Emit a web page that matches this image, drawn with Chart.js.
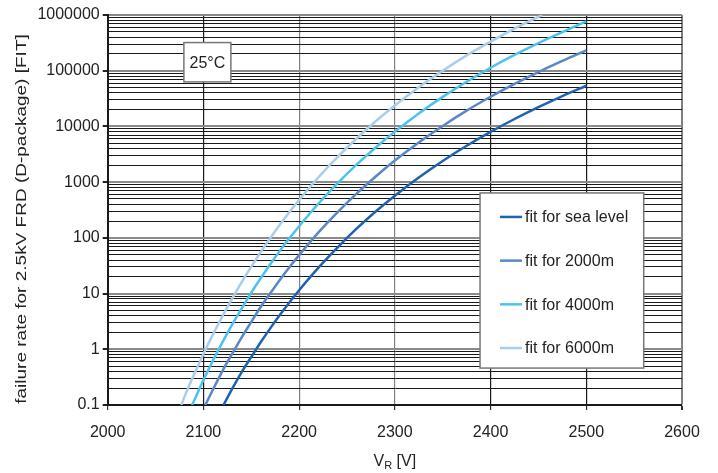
<!DOCTYPE html>
<html>
<head>
<meta charset="utf-8">
<script src="https://cdn.jsdelivr.net/npm/chart.js@4.4.1/dist/chart.umd.min.js"></script>
<style>
  html, body { margin: 0; padding: 0; background: #fff; }
</style>
</head>
<body>
<canvas id="fitChart" width="718" height="473"></canvas>
<script>
// values: V_R [V] and failure rate [FIT]
const seriesLabels = ['fit for sea level', 'fit for 2000m', 'fit for 4000m', 'fit for 6000m'];

const vSea = [2121, 2130, 2140, 2150, 2160, 2170, 2180, 2190, 2200, 2220, 2240, 2260, 2280, 2300, 2325, 2350, 2375, 2400, 2425, 2450, 2475, 2500];
const fitSea = [0.1, 0.195, 0.39, 0.73, 1.35, 2.4, 4.15, 7.0, 11.5, 29, 67, 146, 297, 570, 1210, 2400, 4500, 8000, 13600, 22200, 35100, 53700];

const v2000 = [2102, 2110, 2120, 2130, 2140, 2150, 2160, 2170, 2180, 2190, 2200, 2220, 2240, 2260, 2280, 2300, 2325, 2350, 2375, 2400, 2425, 2450, 2475, 2500];
const fit2000 = [0.1, 0.19, 0.41, 0.83, 1.64, 3.1, 5.8, 10.2, 17.7, 29.9, 49, 124, 287, 621, 1265, 2440, 5160, 10200, 19200, 34100, 58100, 94800, 150000, 232000];

const v4000 = [2088, 2090, 2100, 2110, 2120, 2130, 2140, 2150, 2160, 2170, 2180, 2190, 2200, 2220, 2240, 2260, 2280, 2300, 2325, 2350, 2375, 2400, 2425, 2450, 2475, 2500];
const fit4000 = [0.1, 0.117, 0.28, 0.63, 1.34, 2.76, 5.4, 10.4, 19, 34, 59, 99, 162, 409, 951, 2060, 4190, 8070, 17100, 33900, 63500, 113000, 192000, 314000, 495000, 770000];

const v6000 = [2077, 2080, 2090, 2100, 2110, 2120, 2130, 2140, 2150, 2160, 2170, 2180, 2190, 2200, 2220, 2240, 2260, 2280, 2300, 2325, 2350, 2375, 2400, 2425, 2450, 2454];
const fit6000 = [0.1, 0.137, 0.345, 0.82, 1.85, 3.96, 8.1, 16.1, 30.5, 56, 100, 173, 292, 479, 1210, 2810, 6070, 12400, 23800, 50500, 100000, 188000, 333000, 568000, 927000, 1000000];

const xTicks = [2000, 2100, 2200, 2300, 2400, 2500, 2600];
const yDecades = [0.1, 1, 10, 100, 1000, 10000, 100000, 1000000];

const colors = ['#1f63b0', '#5a87c7', '#4cc2ee', '#a9cdec'];
const textColor = '#222';
const fontFamily = "'Liberation Sans', Arial, sans-serif";
const yTitle = 'failure rate for 2.5kV FRD (D-package) [FIT]';

function toPoints(xs, ys) {
    return xs.map((v, i) => ({ x: v, y: ys[i] }));
}

function isDecade(v) {
    const l = Math.log10(v);
    return Math.abs(l - Math.round(l)) < 1e-9;
}

// 25°C box, legend box, axis titles (subscript on x, squeezed y title like the original)
const extras = {
    id: 'extras',
    afterDatasetsDraw(chart) {
        const { ctx, scales: { x, y } } = chart;
        ctx.save();
        ctx.font = '16px ' + fontFamily;

        // temperature label
        const tx1 = x.getPixelForValue(2079.6), tx2 = x.getPixelForValue(2128.7);
        const ty1 = y.getPixelForValue(320000), ty2 = y.getPixelForValue(63000);
        ctx.fillStyle = '#fff';
        ctx.fillRect(tx1, ty1, tx2 - tx1, ty2 - ty1);
        ctx.strokeStyle = '#777';
        ctx.lineWidth = 1.5;
        ctx.strokeRect(tx1, ty1, tx2 - tx1, ty2 - ty1);
        ctx.fillStyle = textColor;
        ctx.textAlign = 'center';
        ctx.textBaseline = 'middle';
        ctx.fillText('25°C', (tx1 + tx2) / 2, (ty1 + ty2) / 2 + 1);

        // legend
        const lx1 = x.getPixelForValue(2389), lx2 = x.getPixelForValue(2560);
        const ly1 = y.getPixelForValue(640), ly2 = y.getPixelForValue(0.46);
        ctx.fillStyle = '#fff';
        ctx.fillRect(lx1, ly1, lx2 - lx1, ly2 - ly1);
        ctx.strokeStyle = '#777';
        ctx.lineWidth = 1.5;
        ctx.strokeRect(lx1, ly1, lx2 - lx1, ly2 - ly1);
        ctx.textAlign = 'left';
        chart.data.datasets.forEach((ds, i) => {
            const ry = ly1 + 24 + i * 43.7;
            ctx.strokeStyle = ds.borderColor;
            ctx.lineWidth = 2.5;
            ctx.beginPath();
            ctx.moveTo(lx1 + 20, ry);
            ctx.lineTo(lx1 + 42, ry);
            ctx.stroke();
            ctx.fillStyle = textColor;
            ctx.fillText(ds.label, lx1 + 45, ry + 1);
        });
        ctx.restore();
    },
    afterDraw(chart) {
        const { ctx, chartArea } = chart;
        ctx.save();
        ctx.fillStyle = textColor;
        ctx.textBaseline = 'alphabetic';
        ctx.textAlign = 'left';
        const big = '16px ' + fontFamily, small = '11px ' + fontFamily;
        ctx.font = big;
        const wV = ctx.measureText('V').width;
        const wRest = ctx.measureText(' [V]').width;
        ctx.font = small;
        const wR = ctx.measureText('R').width;
        const total = wV + wR + wRest;
        let cx = (chartArea.left + chartArea.right) / 2 - total / 2;
        const base = 466;
        ctx.font = big;
        ctx.fillText('V', cx, base);
        cx += wV;
        ctx.font = small;
        ctx.fillText('R', cx, base + 3);
        cx += wR;
        ctx.font = big;
        ctx.fillText(' [V]', cx, base);
        ctx.restore();

        // y title
        ctx.save();
        ctx.translate(22, 219);
        ctx.rotate(-Math.PI / 2);
        ctx.scale(1, 0.78);
        ctx.font = '19px ' + fontFamily;
        ctx.fillStyle = textColor;
        ctx.textAlign = 'center';
        ctx.textBaseline = 'middle';
        ctx.fillText(yTitle, 0, 0);
        ctx.restore();
    }
};

const ctx = document.getElementById('fitChart');
new Chart(ctx, {
    type: 'line',
    data: {
        datasets: [
            { label: seriesLabels[0], data: toPoints(vSea, fitSea), borderColor: colors[0] },
            { label: seriesLabels[1], data: toPoints(v2000, fit2000), borderColor: colors[1] },
            { label: seriesLabels[2], data: toPoints(v4000, fit4000), borderColor: colors[2] },
            { label: seriesLabels[3], data: toPoints(v6000, fit6000), borderColor: colors[3] }
        ]
    },
    options: {
        responsive: false,
        animation: false,
        layout: { padding: { top: 15, right: 36, left: 0, bottom: 0 } },
        elements: {
            point: { radius: 0 },
            line: { borderWidth: 2.5, cubicInterpolationMode: 'monotone', fill: false }
        },
        plugins: {
            legend: { display: false },
            tooltip: { enabled: false }
        },
        scales: {
            x: {
                type: 'linear',
                min: xTicks[0],
                max: xTicks[xTicks.length - 1],
                afterBuildTicks: scale => { scale.ticks = xTicks.map(v => ({ value: v })); },
                afterFit: scale => { scale.height = 68; },
                ticks: {
                    color: textColor,
                    font: { size: 16, family: fontFamily },
                    padding: 13,
                    maxRotation: 0,
                    callback: v => String(v)
                },
                grid: {
                    tickLength: 5,
                    color: c => (c.tick && (c.tick.value === 2200 || c.tick.value === 2300 || c.tick.value === 2600)) ? '#808080' : '#1a1a1a',
                    lineWidth: c => (c.tick && c.tick.value === 2600) ? 2 : 1.2,
                    tickColor: '#333'
                },
                border: { color: '#1a1a1a', width: 2 }
            },
            y: {
                type: 'logarithmic',
                min: yDecades[0],
                max: yDecades[yDecades.length - 1],
                afterBuildTicks: scale => {
                    const t = [];
                    for (let d = 0; d < yDecades.length; d++) {
                        for (let m = 1; m <= 9; m++) {
                            if (d === yDecades.length - 1 && m > 1) break;
                            t.push({ value: m * yDecades[d] });
                        }
                    }
                    scale.ticks = t;
                },
                afterFit: scale => { scale.width = 107.7; },
                ticks: {
                    autoSkip: false,
                    color: textColor,
                    font: { size: 16, family: fontFamily },
                    padding: 3,
                    callback: v => isDecade(v) ? String(yDecades.find(d => Math.abs(d - v) / d < 1e-6)) : ''
                },
                grid: {
                    tickLength: 5,
                    color: c => (c.tick && isDecade(c.tick.value)) ? '#8a8a8a' : '#1a1a1a',
                    lineWidth: c => (c.tick && isDecade(c.tick.value)) ? 2 : 1,
                    tickColor: c => (c.tick && isDecade(c.tick.value)) ? '#222' : 'rgba(0,0,0,0)'
                },
                border: { color: '#1a1a1a', width: 2 },
                title: { display: false }
            }
        }
    },
    plugins: [extras]
});
</script>
</body>
</html>
